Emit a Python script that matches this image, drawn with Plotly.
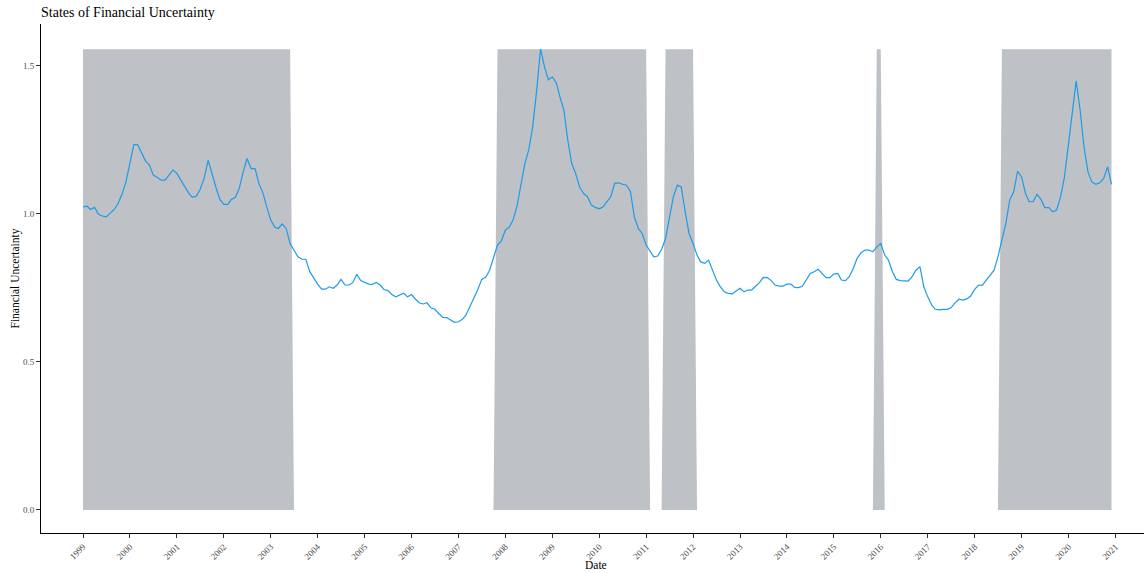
import plotly.graph_objects as go
import pandas as pd

# ---- data ----
start_month = "1999-01-01"
uncertainty = [
    # 1999
    1.023, 1.025, 1.014, 1.021, 0.998, 0.992, 0.989, 1.000, 1.014, 1.034, 1.066, 1.107,
    # 2000
    1.169, 1.233, 1.233, 1.203, 1.178, 1.164, 1.130, 1.122, 1.113, 1.113, 1.130, 1.147,
    # 2001
    1.136, 1.113, 1.088, 1.070, 1.055, 1.059, 1.082, 1.119, 1.180, 1.130, 1.088, 1.048,
    # 2002
    1.031, 1.031, 1.048, 1.055, 1.085, 1.141, 1.186, 1.152, 1.152, 1.102, 1.070, 1.023,
    # 2003
    0.978, 0.955, 0.950, 0.965, 0.950, 0.899, 0.875, 0.854, 0.846, 0.846, 0.804, 0.781,
    # 2004
    0.762, 0.745, 0.745, 0.753, 0.748, 0.759, 0.778, 0.759, 0.759, 0.767, 0.795, 0.774,
    # 2005
    0.768, 0.762, 0.761, 0.768, 0.759, 0.744, 0.740, 0.727, 0.719, 0.725, 0.731, 0.719,
    # 2006
    0.727, 0.711, 0.699, 0.695, 0.699, 0.682, 0.677, 0.663, 0.650, 0.649, 0.641, 0.633,
    # 2007
    0.635, 0.643, 0.658, 0.686, 0.714, 0.744, 0.778, 0.785, 0.809, 0.849, 0.894, 0.908,
    # 2008
    0.944, 0.955, 0.978, 1.025, 1.090, 1.169, 1.214, 1.293, 1.416, 1.555, 1.495, 1.452,
    # 2009
    1.461, 1.441, 1.394, 1.349, 1.248, 1.169, 1.136, 1.090, 1.068, 1.057, 1.029, 1.021,
    # 2010
    1.016, 1.023, 1.040, 1.057, 1.102, 1.104, 1.099, 1.096, 1.074, 0.989, 0.950, 0.933,
    # 2011
    0.894, 0.871, 0.854, 0.857, 0.879, 0.916, 0.984, 1.057, 1.096, 1.090, 1.006, 0.933,
    # 2012
    0.899, 0.860, 0.837, 0.832, 0.843, 0.809, 0.776, 0.753, 0.736, 0.731, 0.729, 0.739,
    # 2013
    0.748, 0.736, 0.742, 0.742, 0.755, 0.767, 0.785, 0.784, 0.774, 0.759, 0.755, 0.755,
    # 2014
    0.762, 0.762, 0.751, 0.750, 0.755, 0.776, 0.798, 0.804, 0.812, 0.798, 0.784, 0.784,
    # 2015
    0.796, 0.798, 0.776, 0.774, 0.787, 0.815, 0.849, 0.868, 0.877, 0.877, 0.871, 0.888,
    # 2016
    0.899, 0.860, 0.843, 0.804, 0.778, 0.774, 0.774, 0.772, 0.787, 0.809, 0.821, 0.753,
    # 2017
    0.719, 0.691, 0.677, 0.675, 0.677, 0.677, 0.682, 0.699, 0.711, 0.708, 0.712, 0.722,
    # 2018
    0.744, 0.759, 0.758, 0.776, 0.793, 0.809, 0.854, 0.911, 0.967, 1.046, 1.074, 1.143,
    # 2019
    1.124, 1.068, 1.040, 1.040, 1.065, 1.048, 1.020, 1.020, 1.006, 1.012, 1.057, 1.124,
    # 2020
    1.231, 1.349, 1.448, 1.349, 1.225, 1.141, 1.107, 1.099, 1.104, 1.119, 1.158, 1.099,
]

# high-uncertainty state periods (first and last month in the state)
state_start = ["1999-01-01", "2007-11-01", "2011-06-01", "2015-12-01", "2018-08-01"]
state_end = ["2003-06-01", "2011-01-01", "2012-01-01", "2016-01-01", "2020-12-01"]

tick_years = list(range(1999, 2022))
y_ticks = [0.0, 0.5, 1.0, 1.5]

# ---- build ----
dates = pd.date_range(start_month, periods=len(uncertainty), freq="MS")
top = max(uncertainty)
state = []
for d in dates:
    inside = any(pd.Timestamp(s) <= d <= pd.Timestamp(e) for s, e in zip(state_start, state_end))
    state.append(top if inside else 0.0)

FONT = "Liberation Serif"
FIG_W, FIG_H = 1144, 573

fig = go.Figure()
fig.add_trace(go.Scatter(
    x=dates, y=state, mode="lines", line=dict(width=0),
    fill="tozeroy", fillcolor="#BEC1C5", hoverinfo="skip", showlegend=False,
))
fig.add_trace(go.Scatter(
    x=dates, y=uncertainty, mode="lines",
    line=dict(color="#1E9BE9", width=1.2), showlegend=False,
))

fig.update_layout(
    width=FIG_W, height=FIG_H, autosize=False,
    margin=dict(l=41, r=0, t=24, b=40),
    paper_bgcolor="white", plot_bgcolor="white",
    font=dict(family=FONT, color="black"),
    title=dict(
        text="States of Financial Uncertainty",
        font=dict(family=FONT, size=14, color="black"),
        xref="paper", x=0, xanchor="left",
        yref="container", y=1 - 12 / FIG_H, yanchor="middle",
    ),
    xaxis=dict(
        type="date",
        range=["1998-02-08", "2021-08-11"],
        tickvals=[f"{y}-01-01" for y in tick_years],
        ticktext=[str(y) for y in tick_years],
        tickangle=-45,
        tickfont=dict(family=FONT, size=9, color="#4D4D4D"),
        ticks="outside", ticklen=4, tickcolor="#333333", tickwidth=1,
        showline=True, linecolor="black", linewidth=1,
        showgrid=False, zeroline=False, automargin=False,
    ),
    yaxis=dict(
        range=[-0.078, 1.64],
        tickvals=y_ticks,
        ticktext=[f"{v:.1f}" for v in y_ticks],
        tickfont=dict(family=FONT, size=9, color="#4D4D4D"),
        ticks="outside", ticklen=4, tickcolor="#333333", tickwidth=1,
        showline=True, linecolor="black", linewidth=1,
        showgrid=False, zeroline=False, automargin=False,
    ),
    annotations=[
        dict(text="Date", xref="paper", yref="paper", x=(596 - 41) / 1103, y=0,
             yshift=-32, xanchor="center", yanchor="middle", showarrow=False,
             font=dict(family=FONT, size=11.5, color="black")),
        dict(text="Financial Uncertainty", xref="paper", yref="paper",
             x=(15 - 41) / 1103, y=0.5, xanchor="center", yanchor="middle",
             textangle=-90, showarrow=False,
             font=dict(family=FONT, size=11.5, color="black")),
    ],
)

fig.write_html(
    "out.html",
    config={"displayModeBar": False},
    post_script="document.body.style.margin='0px';",
)
